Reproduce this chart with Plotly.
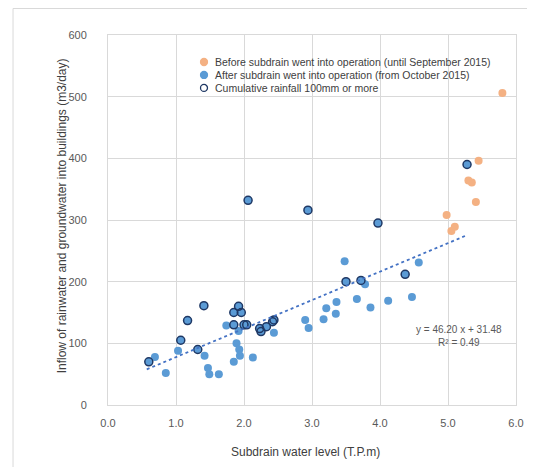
import plotly.graph_objects as go

# Before subdrain went into operation (until September 2015)
before_x = [4.98, 5.05, 5.10, 5.30, 5.35, 5.41, 5.45, 5.80]
before_y = [308, 282, 289, 364, 361, 329, 396, 506]

# After subdrain went into operation (from October 2015) - days with less rain
after_x = [0.69, 0.85, 1.03, 1.42, 1.47, 1.49, 1.63, 1.74, 1.85, 1.89, 1.92, 1.93, 1.94, 2.13,
           2.44, 2.90, 2.95, 3.17, 3.21, 3.35, 3.36, 3.48, 3.66, 3.78, 3.86, 4.12, 4.47, 4.57]
after_y = [78, 52, 88, 80, 60, 50, 50, 129, 70, 100, 120, 90, 80, 77,
           117, 138, 125, 139, 157, 148, 167, 233, 172, 196, 158, 169, 175, 231]

# Cumulative rainfall 100mm or more (also after subdrain operation)
rain_x = [0.60, 1.07, 1.17, 1.32, 1.41, 1.85, 1.85, 1.92, 1.96, 2.00, 2.04, 2.06, 2.23, 2.25,
          2.33, 2.42, 2.44, 2.94, 3.50, 3.72, 3.97, 4.37, 5.28]
rain_y = [70, 105, 137, 90, 161, 150, 130, 160, 150, 130, 130, 332, 124, 119,
          127, 135, 138, 316, 200, 202, 295, 212, 390]

# Linear trendline
trend_slope = 46.20
trend_intercept = 31.48
trend_r2 = 0.49
trend_x = [0.57, 5.26]
trend_y = [trend_slope * v + trend_intercept for v in trend_x]

x_ticks = [0, 1, 2, 3, 4, 5, 6]
x_tick_labels = ["0.0", "1.0", "2.0", "3.0", "4.0", "5.0", "6.0"]
y_ticks = [0, 100, 200, 300, 400, 500, 600]

legend_names = ["Before subdrain went into operation (until September 2015)",
                "After subdrain went into operation (from October 2015)",
                "Cumulative rainfall 100mm or more"]

ORANGE = "#F4B183"
BLUE = "#5B9BD5"
NAVY = "#1F3864"
GRID = "#D9D9D9"
TXT = "#595959"
FONT = "Liberation Sans, Arial, sans-serif"

fig = go.Figure()
fig.add_trace(go.Scatter(x=before_x, y=before_y, mode="markers", name=legend_names[0],
                         marker=dict(color=ORANGE, size=8)))
fig.add_trace(go.Scatter(x=after_x + rain_x, y=after_y + rain_y, mode="markers",
                         name=legend_names[1], marker=dict(color=BLUE, size=8)))
fig.add_trace(go.Scatter(x=rain_x, y=rain_y, mode="markers", name=legend_names[2],
                         marker=dict(color="rgba(0,0,0,0)", size=8,
                                     line=dict(color=NAVY, width=1.5))))
fig.add_trace(go.Scatter(x=trend_x, y=trend_y, mode="lines", name="Linear trend",
                         line=dict(color="#4472C4", width=1.8, dash="dot")))

# manual legend (compact, like the original)
leg_sym_x = 0.2353
leg_txt_x = 0.2574
leg_ys = [0.927, 0.892, 0.857]
leg_styles = [dict(fill=ORANGE, line=ORANGE), dict(fill=BLUE, line=BLUE),
              dict(fill="white", line=NAVY)]
for name, ly, st in zip(legend_names, leg_ys, leg_styles):
    fig.add_shape(type="circle", xref="paper", yref="paper", xsizemode="pixel", ysizemode="pixel",
                  xanchor=leg_sym_x, yanchor=ly, x0=-3.5, x1=3.5, y0=-3.5, y1=3.5,
                  fillcolor=st["fill"], line=dict(color=st["line"], width=1.3))
    fig.add_annotation(x=leg_txt_x, y=ly, xref="paper", yref="paper", showarrow=False,
                       xanchor="left", yanchor="middle", text=name,
                       font=dict(family=FONT, size=10.5, color="#404040"))

fig.add_annotation(x=5.16, y=112, xref="x", yref="y", showarrow=False,
                   xanchor="center", yanchor="middle",
                   text=f"y = {trend_slope:.2f} x + {trend_intercept:.2f}<br>R² = {trend_r2:.2f}",
                   font=dict(family=FONT, size=10, color=TXT), align="center")

fig.add_annotation(x=-0.1127, y=0.51, xref="paper", yref="paper", showarrow=False,
                   xanchor="center", yanchor="middle",
                   text="Inflow of rainwater and groundwater into buildings (m3/day)",
                   textangle=-90, font=dict(family=FONT, size=12, color="#404040"))
fig.add_annotation(x=0.485, y=-0.127, xref="paper", yref="paper", showarrow=False,
                   xanchor="center", yanchor="middle",
                   text="Subdrain water level (T.P.m)",
                   font=dict(family=FONT, size=12, color="#404040"))

fig.add_shape(type="rect", xref="paper", yref="paper", x0=-0.2328, y0=-0.3, x1=1.2, y1=1.0716,
              line=dict(color=GRID, width=1), layer="below")

fig.update_layout(
    width=527, height=459,
    margin=dict(l=100, r=19, t=27, b=62),
    paper_bgcolor="white", plot_bgcolor="white",
    showlegend=False,
    xaxis=dict(range=[0, 6], tickvals=x_ticks, ticktext=x_tick_labels,
               showgrid=True, gridcolor=GRID, zeroline=False,
               showline=True, linecolor=GRID, mirror=True,
               tickfont=dict(family=FONT, size=11, color=TXT),
               ticks="", ticklabelstandoff=8),
    yaxis=dict(range=[0, 600], tickvals=y_ticks,
               showgrid=True, gridcolor=GRID, zeroline=False,
               showline=True, linecolor=GRID, mirror=True,
               tickfont=dict(family=FONT, size=11, color=TXT),
               ticks="", ticklabelstandoff=18),
)

fig.write_html("out.html")
